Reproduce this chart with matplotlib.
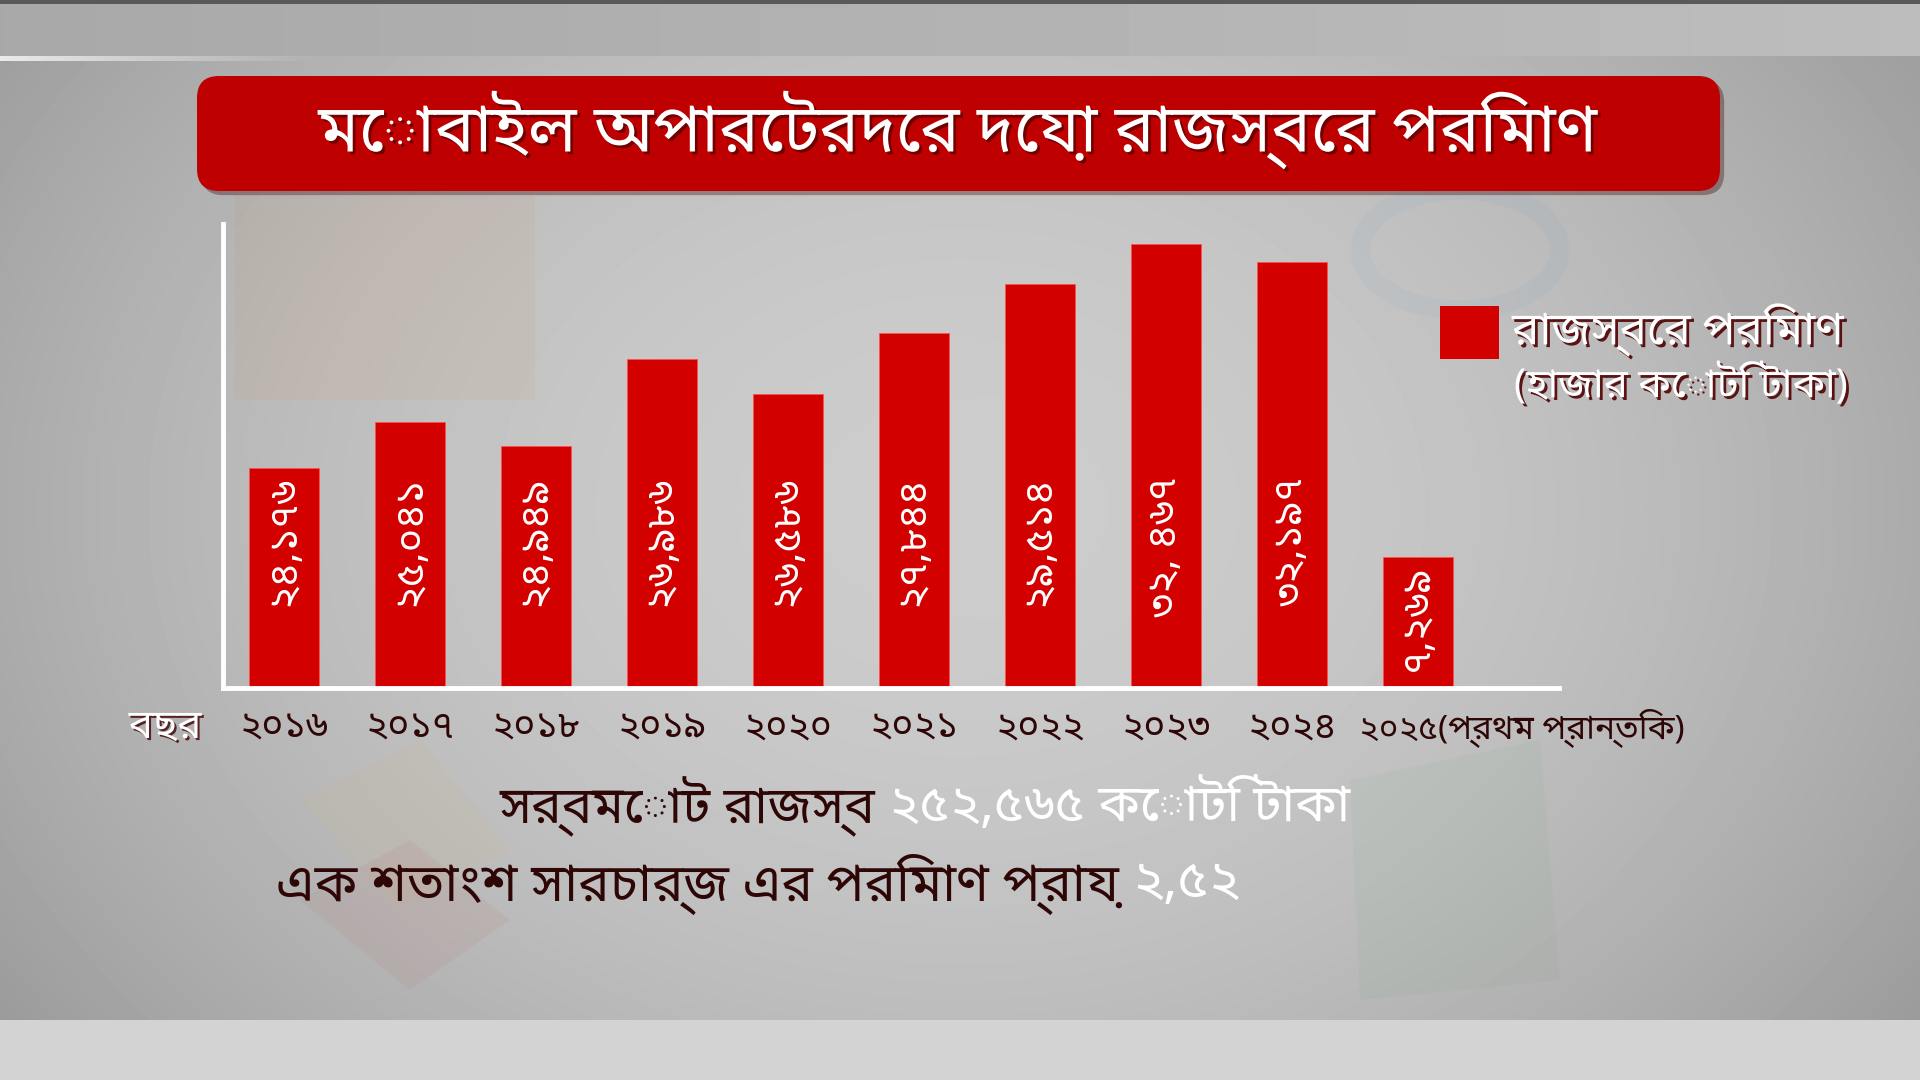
import numpy as np
import matplotlib
matplotlib.use("Agg")
import matplotlib.pyplot as plt
import matplotlib.patheffects as pe
import matplotlib.transforms as mtransforms
from matplotlib.patches import FancyBboxPatch, Rectangle, Polygon, Ellipse

# ------------------------------------------------------------
# Datos
# ------------------------------------------------------------
title = "মোবাইল অপারেটরদের দেয়া রাজস্বের পরিমাণ"
year_word = "বছর"
years = ["২০১৬", "২০১৭", "২০১৮", "২০১৯", "২০২০", "২০২১", "২০২২",
         "২০২৩", "২০২৪", "২০২৫(প্রথম প্রান্তিক)"]
revenue_labels = ["২৪,১৭৬", "২৫,০৪১", "২৪,৯৪৯", "২৬,৯৮৬", "২৬,৫৮৬",
                  "২৭,৮৪৪", "২৯,৫১৪", "৩২, ৪৬৭", "৩২,১৯৭", "৭,২৬৯"]
# alturas de las barras tal como aparecen en el gráfico (no proporcionales)
bar_heights = [220, 266, 242, 329, 294, 355, 404, 444, 426, 131]
legend_label = "রাজস্বের পরিমাণ"
legend_unit = "(হাজার কোটি টাকা)"
total_text = ["সর্বমোট রাজস্ব ", "২৫২,৫৬৫ কোটি টাকা"]
surcharge_text = ["এক শতাংশ সারচার্জ এর পরিমাণ প্রায় ", "২,৫২"]

RED = "#d30000"
DARK = "#2e0606"

plt.rcParams["font.family"] = ["Noto Sans Bengali", "DejaVu Sans"]

W, H = 1920, 1080
fig = plt.figure(figsize=(19.2, 10.8), dpi=100)

# ------------------------------------------------------------
# Fondo
# ------------------------------------------------------------
bg = fig.add_axes([0, 0, 1, 1], zorder=0)
yy, xx = np.mgrid[0:H, 0:W]
xn = (xx - W * 0.5) / (W * 0.5)
yn = (yy - H * 0.47) / (H * 0.5)
img = 0.80 - 0.13 * xn ** 2 - 0.07 * yn ** 2
img[:56] = 0.70 + 0.04 * xn[:56]
img[:4] = 0.35
streak = np.clip(1 - xx[56:61] / 320.0, 0, 1)
img[56:61] = img[56:61] * (1 - streak) + 0.92 * streak
img[1020:] = 0.83
bg.imshow(img, cmap="gray", vmin=0, vmax=1, extent=[0, W, H, 0], aspect="auto")
bg.set_xlim(0, W)
bg.set_ylim(H, 0)
bg.axis("off")

# marcas de agua tenues
bg.add_patch(Rectangle((235, 195), 300, 205, facecolor="#d98a3a", alpha=0.08, edgecolor="none"))
bg.add_patch(Polygon([(300, 800), (420, 740), (510, 850), (400, 910)],
                     facecolor="#e0b060", alpha=0.08, edgecolor="none"))
bg.add_patch(Polygon([(300, 900), (410, 840), (510, 920), (410, 990)],
                     facecolor="#c05050", alpha=0.08, edgecolor="none"))
bg.add_patch(Polygon([(1350, 780), (1540, 740), (1560, 980), (1360, 1000)],
                     facecolor="#60a060", alpha=0.06, edgecolor="none"))
bg.add_patch(Ellipse((1460, 250), 200, 120, facecolor="none", edgecolor="#4a90c0",
                     linewidth=14, alpha=0.05))

# caja del título
box = FancyBboxPatch((197, 76), 1523, 115, boxstyle="round,pad=0,rounding_size=22",
                     facecolor="#bf0000", edgecolor="none",
                     path_effects=[pe.SimplePatchShadow(offset=(3, -3), alpha=0.35), pe.Normal()])
bg.add_patch(box)
bg.text(958, 130, title, ha="center", va="center", color="white", fontsize=48,
        fontweight="bold",
        path_effects=[pe.SimplePatchShadow(offset=(2, -2), shadow_rgbFace="#500000", alpha=0.7),
                      pe.Normal()])

# leyenda
bg.add_patch(Rectangle((1440, 306), 59, 53, facecolor=RED, edgecolor="none"))
shadow = [pe.SimplePatchShadow(offset=(2, -2), shadow_rgbFace="#500000", alpha=0.9), pe.Normal()]
bg.text(1512, 330, legend_label, ha="left", va="center", color="white", fontsize=33,
        fontweight="bold", path_effects=shadow)
bg.text(1514, 386, legend_unit, ha="left", va="center", color="white", fontsize=29,
        fontweight="bold", path_effects=shadow)

# textos inferiores (dos colores en la misma línea)
t1 = bg.text(500, 806, total_text[0], ha="left", va="center", color=DARK, fontsize=37,
             fontweight="bold")
bg.annotate(total_text[1], xy=(1, 0.5), xycoords=t1, ha="left", va="center",
            color="white", fontsize=37, fontweight="bold")
t2 = bg.text(276, 884, surcharge_text[0], ha="left", va="center", color=DARK, fontsize=38,
             fontweight="bold")
bg.annotate(surcharge_text[1], xy=(1, 0.5), xycoords=t2, ha="left", va="center",
            color="white", fontsize=38, fontweight="bold")

# ------------------------------------------------------------
# Gráfico de barras
# ------------------------------------------------------------
ax_left, ax_right, ax_top, ax_bottom = 223, 1559, 224, 688
ax = fig.add_axes([ax_left / W, 1 - ax_bottom / H, (ax_right - ax_left) / W,
                   (ax_bottom - ax_top) / H], zorder=2)
ax.patch.set_alpha(0)

x = np.arange(len(years))
ax.bar(x, bar_heights, width=0.56, color=RED, edgecolor="#ff5050", linewidth=0.6)

for xi, h, lab in zip(x, bar_heights, revenue_labels):
    ytop = min(212, h - 8)
    ax.text(xi, ytop, lab, rotation=90, ha="center", va="top", color="white",
            fontsize=29, fontweight="bold")

ax.set_xlim(-0.484, 10.12)
ax.set_ylim(0, ax_bottom - ax_top)
for s in ["top", "right"]:
    ax.spines[s].set_visible(False)
for s in ["left", "bottom"]:
    ax.spines[s].set_color("white")
    ax.spines[s].set_linewidth(3.5)
ax.set_xticks([])
ax.set_yticks([])

trans = mtransforms.blended_transform_factory(ax.transData, ax.transAxes)
ylab = -(728 - ax_bottom) / (ax_bottom - ax_top)
for xi, yr in zip(x[:-1], years[:-1]):
    ax.text(xi, ylab, yr, transform=trans, ha="center", va="center", color=DARK,
            fontsize=27, fontweight="bold", clip_on=False)
ax.text(8.53, ylab, years[-1], transform=trans, ha="left", va="center", color=DARK,
        fontsize=24, fontweight="bold", clip_on=False)
ax.text(-0.944, ylab, year_word, transform=trans, ha="center", va="center", color="white",
        fontsize=29, fontweight="bold", clip_on=False,
        path_effects=[pe.SimplePatchShadow(offset=(1.5, -1.5), shadow_rgbFace="#400000",
                                           alpha=0.8), pe.Normal()])

fig.savefig("out.png", dpi=100)
